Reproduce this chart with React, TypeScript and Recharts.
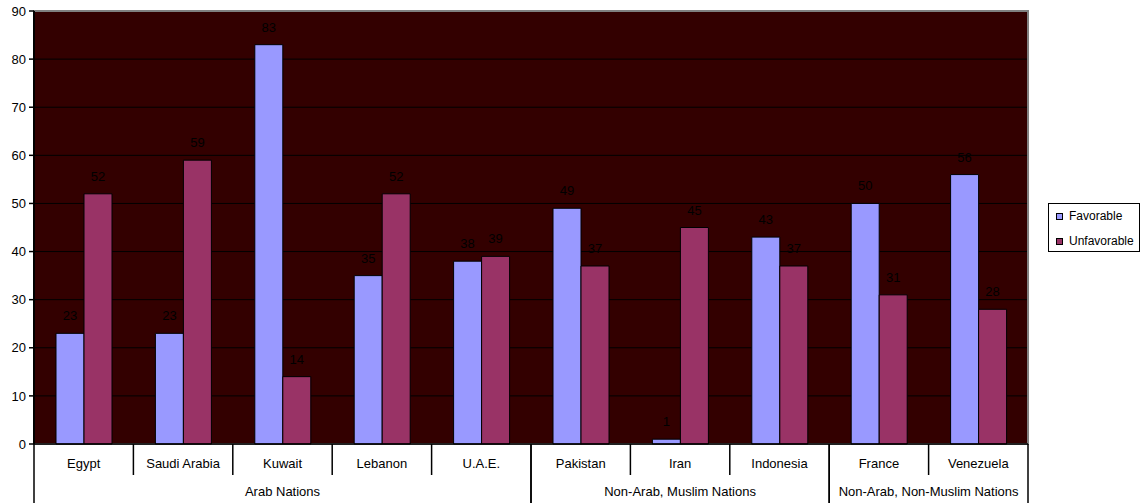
import { BarChart, Bar, XAxis, YAxis, CartesianGrid, ReferenceArea, LabelList } from 'recharts'

const countries = ['Egypt', 'Saudi Arabia', 'Kuwait', 'Lebanon', 'U.A.E.', 'Pakistan', 'Iran', 'Indonesia', 'France', 'Venezuela']
const favorable = [23, 23, 83, 35, 38, 49, 1, 43, 50, 56]
const unfavorable = [52, 59, 14, 52, 39, 37, 45, 37, 31, 28]
const groupNames = ['Arab Nations', 'Non-Arab, Muslim Nations', 'Non-Arab, Non-Muslim Nations']
const groupSizes = [5, 3, 2]
const yTicks = [0, 10, 20, 30, 40, 50, 60, 70, 80, 90]

const FAV_COLOR = '#9999ff'
const UNFAV_COLOR = '#993366'
const FONT = 'Arial, "Liberation Sans", sans-serif'

const data = countries.map((name, i) => ({
  name,
  favorable: favorable[i],
  unfavorable: unfavorable[i],
}))

// index of the first category in each group
const groupStarts = groupSizes.map((_, g) => groupSizes.slice(0, g).reduce((a, b) => a + b, 0))

function CategoryTick(props: any) {
  const { x, y, payload } = props
  const i: number = payload.index
  const half: number = payload.offset ?? 49.7
  const band = half * 2
  const g = groupStarts.indexOf(i)
  const isGroupEnd = groupStarts.includes(i + 1) || i === countries.length - 1
  return (
    <g>
      <text x={x} y={y + 24} textAnchor="middle" fontSize={13} fontFamily={FONT} fill="#000">
        {payload.value}
      </text>
      {g >= 0 && (
        <>
          <line x1={x - half} x2={x - half} y1={y} y2={y + 59} stroke="#000" strokeWidth={1.5} />
          <text
            x={x - half + (groupSizes[g] * band) / 2}
            y={y + 52}
            textAnchor="middle"
            fontSize={13}
            fontFamily={FONT}
            fill="#000"
          >
            {groupNames[g]}
          </text>
        </>
      )}
      <line
        x1={x + half}
        x2={x + half}
        y1={y}
        y2={isGroupEnd ? y + 59 : y + 31}
        stroke="#000"
        strokeWidth={1.5}
      />
    </g>
  )
}

function LegendBox() {
  const items = [
    { label: 'Favorable', color: FAV_COLOR },
    { label: 'Unfavorable', color: UNFAV_COLOR },
  ]
  return (
    <div
      style={{
        position: 'absolute',
        left: 1048,
        top: 203,
        width: 90,
        height: 47,
        border: '1px solid #000',
        background: '#fff',
        fontFamily: FONT,
        fontSize: 12,
        color: '#000',
      }}
    >
      {items.map((it, i) => (
        <div key={it.label} style={{ position: 'absolute', left: 7, top: 5 + i * 25, display: 'flex', alignItems: 'center' }}>
          <span
            style={{
              display: 'inline-block',
              width: 5,
              height: 5,
              background: it.color,
              border: '1px solid #000',
              marginRight: 6,
            }}
          />
          <span>{it.label}</span>
        </div>
      ))}
    </div>
  )
}

export default function App() {
  return (
    <div style={{ position: 'absolute', left: 0, top: 0, width: 1142, height: 503, background: '#fff' }}>
      <BarChart
        width={1142}
        height={503}
        data={data}
        margin={{ top: 11, right: 114, bottom: 0, left: 0 }}
        barCategoryGap={22}
        barGap={0}
      >
        <CartesianGrid vertical={false} stroke="#000" fill="#330000" strokeOpacity={1} />
        <ReferenceArea y1={0} y2={90} fill="none" stroke="#808080" strokeWidth={2} ifOverflow="visible" />
        <XAxis
          dataKey="name"
          height={59}
          axisLine={{ stroke: '#000', strokeWidth: 1.5 }}
          tickLine={false}
          tickSize={0}
          tickMargin={0}
          interval={0}
          tick={<CategoryTick />}
        />
        <YAxis
          width={34}
          domain={[0, 90]}
          ticks={yTicks}
          interval={0}
          axisLine={{ stroke: '#000', strokeWidth: 2 }}
          tickLine={{ stroke: '#000', strokeWidth: 1.5 }}
          tickSize={5}
          tickMargin={3}
          tick={{ fontSize: 13, fontFamily: FONT, fill: '#000' }}
        />
        <Bar dataKey="favorable" fill={FAV_COLOR} stroke="#000" strokeWidth={1} isAnimationActive={false}>
          <LabelList dataKey="favorable" position="top" offset={13} fontSize={13} fontFamily={FONT} fill="#000" />
        </Bar>
        <Bar dataKey="unfavorable" fill={UNFAV_COLOR} stroke="#000" strokeWidth={1} isAnimationActive={false}>
          <LabelList dataKey="unfavorable" position="top" offset={13} fontSize={13} fontFamily={FONT} fill="#000" />
        </Bar>
      </BarChart>
      <LegendBox />
    </div>
  )
}
